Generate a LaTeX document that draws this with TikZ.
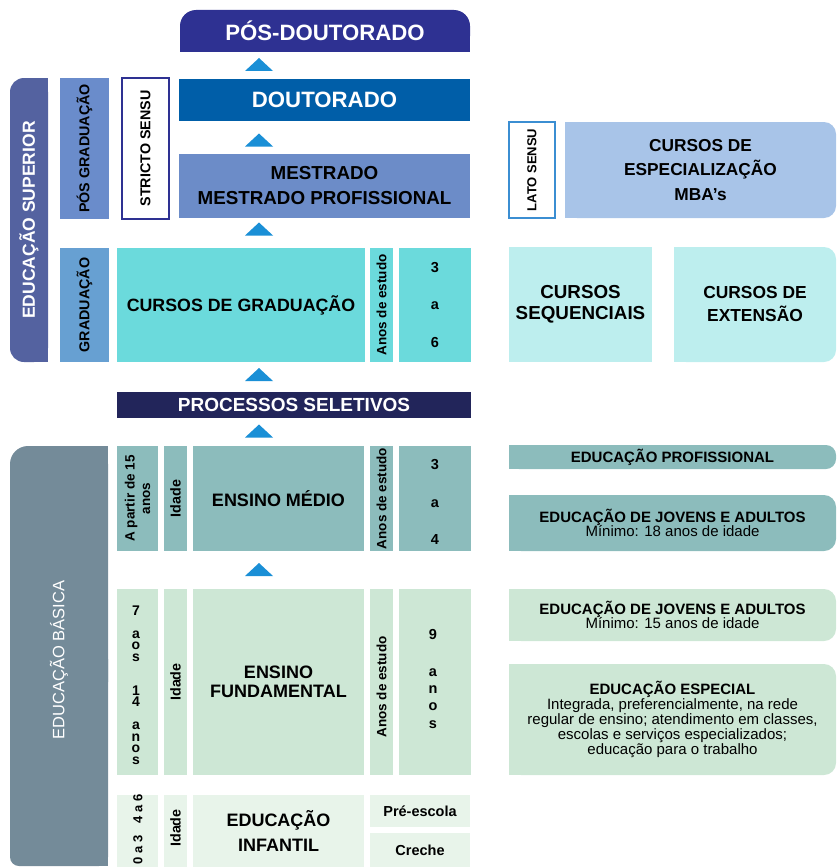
\documentclass[tikz,border=0pt]{standalone}
\usepackage{fontspec}
\setmainfont{Liberation Sans}
\usetikzlibrary{calc}
\definecolor{cPosDoc}{HTML}{2E3192}
\definecolor{cDoc}{HTML}{005EA8}
\definecolor{cMest}{HTML}{6C8CC8}
\definecolor{cEdSup}{HTML}{5462A0}
\definecolor{cPosGrad}{HTML}{6A8CCB}
\definecolor{cGrad}{HTML}{67A0D2}
\definecolor{cStr}{HTML}{2E3192}
\definecolor{cLato}{HTML}{3B8ED2}
\definecolor{cCGrad}{HTML}{6BDADC}
\definecolor{cProc}{HTML}{22255A}
\definecolor{cMed}{HTML}{8CBCBC}
\definecolor{cFund}{HTML}{CDE7D5}
\definecolor{cInf}{HTML}{E8F4EA}
\definecolor{cEdBas}{HTML}{748B99}
\definecolor{cEspec}{HTML}{A8C4E8}
\definecolor{cSeq}{HTML}{BDEEEE}
\definecolor{cArrow}{HTML}{1A8FD6}
\newcommand\fs[2]{\fontsize{#1}{#2}\selectfont\lineskiplimit=-100pt\relax}
\newcommand\mybox[7][]{\node[boxbase,minimum width={(#5-#3)*1pt},minimum height={(#6-#4)*1pt},#1] (#2) at (#3,#4) {#7};}
\newcommand\uptri[4]{\coordinate (#1m) at ($(#2)!0.5!(#3)+(0,#4)$);
  \coordinate (#1) at (xa |- #1m);
  \fill[cArrow] ($(#1)+(-14,6.5)$) -- ($(#1)+(14,6.5)$) -- ($(#1)+(0,-6.5)$) -- cycle;}
\begin{document}
\begin{tikzpicture}[x=1pt,y=-1pt,
  boxbase/.style={inner sep=0pt,outer sep=0pt,anchor=north west,align=center,text=black},
  rlab/.style={rotate=90,font=\bfseries\fs{14.3}{15.5},inner sep=0pt,align=center,text=black},
  small/.style={rlab,font=\bfseries\fs{13.5}{15.5}}]
\useasboundingbox (0,0) rectangle (836,867);
\coordinate (xa) at (259,0);
% rounded backgrounds
\fill[cEdSup,rounded corners=14pt] (10,78) rectangle (48,362);
\fill[cEdSup] (30,78) rectangle (48,362);
\fill[cPosDoc,rounded corners=16pt] (180,10) rectangle (470,52);
\fill[cPosDoc] (180,32) rectangle (470,52);
\fill[cEspec,rounded corners=12pt] (565,122) rectangle (836,218);
\fill[cEspec] (565,122) rectangle (810,218);
\fill[cSeq,rounded corners=12pt] (674,247) rectangle (836,362);
\fill[cSeq] (674,247) rectangle (810,362);
\fill[cEdBas,rounded corners=18pt] (10,446) rectangle (108,700);
\fill[cEdBas] (40,446) rectangle (108,700);
\fill[cEdBas,rounded corners=9pt] (10,650) rectangle (108,866);
\fill[cEdBas] (30,650) rectangle (108,866);
\fill[cMed,rounded corners=10pt] (509,445) rectangle (836,469);
\fill[cMed] (509,445) rectangle (810,469);
\fill[cMed,rounded corners=12pt] (509,495) rectangle (836,551);
\fill[cMed] (509,495) rectangle (810,551);
\fill[cFund,rounded corners=12pt] (509,589) rectangle (836,641);
\fill[cFund] (509,589) rectangle (810,641);
\fill[cFund,rounded corners=12pt] (509,664) rectangle (836,775);
\fill[cFund] (509,664) rectangle (810,775);
% superior
\mybox{edsup}{10}{78}{48}{362}{}
\node[rotate=90,text=white,font=\bfseries\fs{17.5}{20},inner sep=0pt] (ledsup) at (edsup.center) {EDUCAÇÃO SUPERIOR};
\mybox[fill=cPosGrad]{posgrad}{60}{78}{109}{219}{}
\node[rlab] (lposgrad) at (posgrad.center) {PÓS GRADUAÇÃO};
\mybox[fill=white,draw=cStr,line width=1.5pt]{stricto}{122}{78}{169}{219}{}
\node[rlab] (lstricto) at (stricto.center) {STRICTO SENSU};
\mybox[font=\bfseries\fs{22.2}{25},text=white]{posdoc}{180}{10}{470}{52}{PÓS-DOUTORADO}
\mybox[fill=cDoc,font=\bfseries\fs{22.2}{25},text=white]{doc}{179}{79}{470}{121}{DOUTORADO}
\mybox[fill=cMest,font=\bfseries\fs{18.8}{25}]{mest}{179}{154}{470}{218}{MESTRADO\\MESTRADO PROFISSIONAL}
\mybox[fill=white,draw=cLato,line width=1.5pt]{lato}{509}{122}{555}{218}{}
\node[rlab,font=\bfseries\fs{13}{15}] (llato) at (lato.center) {LATO SENSU};
\mybox[font=\bfseries\fs{17.3}{24.5}]{espec}{565}{122}{836}{218}{CURSOS DE\\ESPECIALIZAÇÃO\\MBA’s}
\mybox[fill=cGrad]{grad}{60}{248}{109}{362}{}
\node[rlab] (lgrad) at (grad.center) {GRADUAÇÃO};
\mybox[fill=cCGrad,font=\bfseries\fs{17.8}{22}]{cgrad}{117}{248}{365}{362}{CURSOS DE GRADUAÇÃO}
\mybox[fill=cCGrad]{anosG}{370}{248}{393}{362}{}
\node[small] (lanosG) at (anosG.center) {Anos de estudo};
\mybox[fill=cCGrad,font=\bfseries\fs{14.5}{37.5}]{numG}{399}{248}{471}{362}{3\\a\\6}
\mybox[fill=cSeq,font=\bfseries\fs{18.8}{20.5}]{seq}{509}{247}{652}{362}{CURSOS\\SEQUENCIAIS}
\mybox[font=\bfseries\fs{17.4}{23}]{ext}{674}{247}{836}{362}{CURSOS DE\\EXTENSÃO}
\mybox[fill=cProc,text=white,font=\bfseries\fs{19}{22}]{proc}{117}{392}{471}{418}{PROCESSOS SELETIVOS}
% basica
\mybox{edbas}{10}{446}{108}{866}{}
\node[rotate=90,text=white,font=\fs{16.5}{20},inner sep=0pt] (ledbas) at (59,660) {EDUCAÇÃO BÁSICA};
% medio
\mybox[fill=cMed]{medA}{117}{446}{158}{551}{}
\node[small] (lmedA) at (medA.center) {A partir de 15\\anos};
\mybox[fill=cMed]{medI}{164}{446}{187}{551}{}
\node[rlab] (lmedI) at (medI.center) {Idade};
\mybox[fill=cMed,font=\bfseries\fs{18}{22}]{medE}{193}{446}{364}{551}{ENSINO MÉDIO}
\mybox[fill=cMed]{medAn}{370}{446}{393}{551}{}
\node[small] (lmedAn) at (medAn.center) {Anos de estudo};
\mybox[fill=cMed]{medN}{399}{446}{471}{551}{}
\node[align=center,inner sep=0pt,font=\bfseries\fs{14.5}{37.5}] (lmedN) at ($(medN.center)+(0,3.5)$) {3\\a\\4};
% fundamental
\mybox[fill=cFund]{fundA}{117}{589}{158}{775}{}
\node[align=center,inner sep=0pt,font=\bfseries\fs{14}{11.5}] (lfundA) at (136,685) {7\\[11.5pt]a\\o\\s\\[22.5pt]1\\4\\[11.5pt]a\\n\\o\\s};
\mybox[fill=cFund]{fundI}{164}{589}{187}{775}{}
\node[rlab] (lfundI) at (fundI.center) {Idade};
\mybox[fill=cFund,font=\bfseries\fs{18}{19.5}]{fundE}{193}{589}{364}{775}{ENSINO\\FUNDAMENTAL}
\mybox[fill=cFund]{fundAn}{370}{589}{393}{775}{}
\node[small] (lfundAn) at ($(fundAn.center)+(0,5)$) {Anos de estudo};
\mybox[fill=cFund]{fundN}{399}{589}{471}{775}{}
\node[align=center,inner sep=0pt,font=\bfseries\fs{14.5}{17.3}] (lfundN) at (433,679) {9\\[19pt]a\\n\\o\\s};
% infantil
\mybox[fill=cInf]{infA}{117}{795}{158}{867}{}
\node[small,font=\bfseries\fs{13}{15}] (linfA1) at (138,809) {4 a 6};
\node[small,font=\bfseries\fs{13}{15}] (linfA2) at (138,850) {0 a 3};
\mybox[fill=cInf]{infI}{164}{795}{187}{867}{}
\node[rlab] (linfI) at (175.5,828) {Idade};
\mybox[fill=cInf,font=\bfseries\fs{18}{25}]{infE}{193}{795}{364}{867}{EDUCAÇÃO\\INFANTIL}
\mybox[fill=cInf,font=\bfseries\fs{14.5}{17}]{pre}{370}{795}{470}{827}{Pré-escola}
\mybox[fill=cInf,font=\bfseries\fs{14.5}{17}]{cre}{370}{833}{470}{867}{Creche}
% right side
\mybox[font=\bfseries\fs{15}{17}]{prof}{509}{445}{836}{469}{EDUCAÇÃO PROFISSIONAL}
\mybox[font=\fs{15}{14.5}]{eja18}{509}{495}{836}{551}{\textbf{EDUCAÇÃO DE JOVENS E ADULTOS}\\Mínimo: 18 anos de idade}
\mybox[font=\fs{15}{14.5}]{eja15}{509}{589}{836}{641}{\textbf{EDUCAÇÃO DE JOVENS E ADULTOS}\\Mínimo: 15 anos de idade}
\mybox[font=\fs{15}{15}]{esp}{509}{664}{836}{775}{\textbf{EDUCAÇÃO ESPECIAL}\\Integrada, preferencialmente, na rede\\regular de ensino; atendimento em classes,\\escolas e serviços especializados;\\educação para o trabalho}
% arrows
\uptri{t1}{posdoc.south}{doc.north}{-1}
\uptri{t2}{doc.south}{mest.north}{2.5}
\uptri{t3}{mest.south}{cgrad.north}{-4}
\uptri{t4}{cgrad.south}{proc.north}{-2.5}
\uptri{t5}{proc.south}{medE.north}{-1}
\uptri{t6}{medE.south}{fundE.north}{-0.5}
\end{tikzpicture}
\end{document}
